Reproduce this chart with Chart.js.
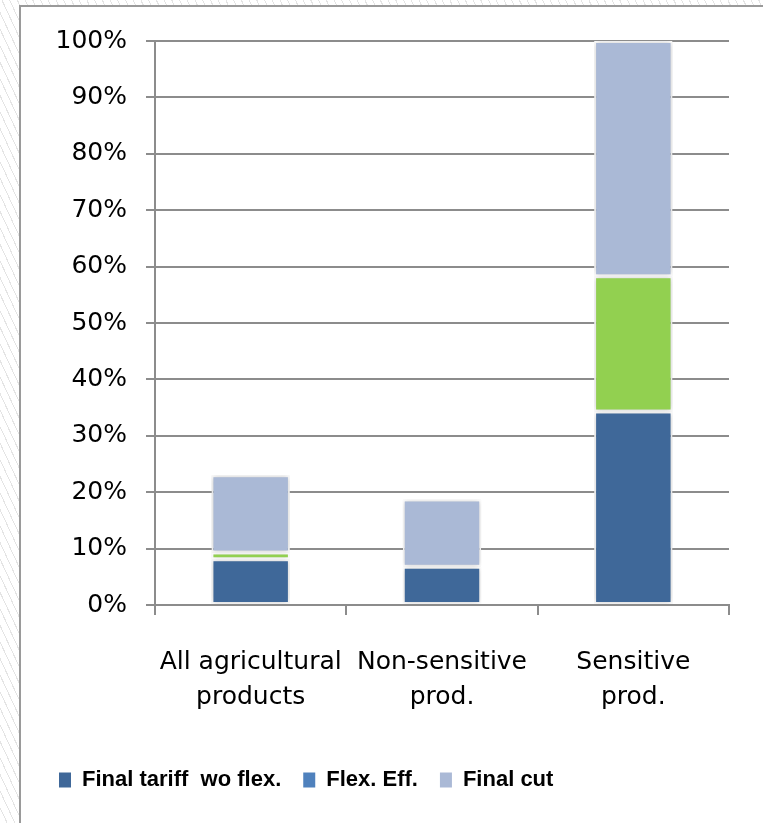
<!DOCTYPE html>
<html>
<head>
<meta charset="utf-8">
<script src="https://cdn.jsdelivr.net/npm/chart.js@4.4.1/dist/chart.umd.min.js"></script>
<style>
  html, body { margin: 0; padding: 0; width: 763px; height: 823px; overflow: hidden; }
  body {
    background: repeating-linear-gradient(65deg, #ffffff 0px, #ffffff 6px, #e4e4e4 6px, #e4e4e4 7px);
    position: relative;
  }
  #frame {
    position: absolute; left: 19px; top: 5px; width: 800px; height: 900px;
    background: #fff; border-left: 2px solid #9a9a9a; border-top: 2px solid #9a9a9a;
  }
  #wrap { position: absolute; left: 0; top: 0; width: 763px; height: 823px; }
</style>
</head>
<body>
<div id="frame"></div>
<div id="wrap"><canvas id="c" width="763" height="823"></canvas></div>
<script>
// Tariff shares by product group (percent of total)
const categories = [["All agricultural", "products"], ["Non-sensitive", "prod."], ["Sensitive", "prod."]];
const finalTariffWoFlex = [8.1, 6.8, 34.3];
const flexEff = [1.2, 0, 24.0];
const finalCut = [13.7, 11.9, 41.7];
const seriesNames = ["Final tariff  wo flex.", "Flex. Eff.", "Final cut"];
const yTicks = [0, 10, 20, 30, 40, 50, 60, 70, 80, 90, 100];

const barColors = ["#3F6899", "#92D050", "#AAB9D6"];
const legendColors = ["#3F6899", "#4F81BD", "#AAB9D6"];
const gridGray = "#8c8c8c";

// soft drop shadow behind the bar segments
const barShadow = {
  id: "barShadow",
  beforeDatasetsDraw(chart) {
    const ctx = chart.ctx;
    ctx.save();
    ctx.shadowColor = "rgba(0,0,0,0.22)";
    ctx.shadowBlur = 6;
  },
  afterDatasetsDraw(chart) {
    chart.ctx.restore();
  }
};

const makeSet = (label, data, i) => ({
  label,
  data,
  backgroundColor: barColors[i],
  borderColor: "#ffffff",
  borderWidth: 2,
  borderSkipped: false,
  categoryPercentage: 1,
  barPercentage: 0.41
});

new Chart(document.getElementById("c"), {
  type: "bar",
  data: {
    labels: categories,
    datasets: [
      makeSet(seriesNames[0], finalTariffWoFlex, 0),
      makeSet(seriesNames[1], flexEff, 1),
      makeSet(seriesNames[2], finalCut, 2)
    ]
  },
  plugins: [barShadow],
  options: {
    responsive: false,
    animation: false,
    layout: { padding: { left: 37, right: 34, top: 41, bottom: 22 } },
    scales: {
      x: {
        stacked: true,
        grid: { offset: true, drawOnChartArea: false, drawTicks: true, tickLength: 10, color: gridGray, lineWidth: 2 },
        border: { display: true, color: gridGray, width: 2 },
        ticks: { color: "#000", padding: 30, font: { family: "DejaVu Sans", size: 25, lineHeight: 1.4 }, maxRotation: 0, autoSkip: false },
        afterFit(scale) { scale.height = 142; }
      },
      y: {
        stacked: true,
        min: 0,
        max: 100,
        afterBuildTicks(scale) { scale.ticks = yTicks.map(v => ({ value: v })); },
        grid: { color: gridGray, lineWidth: 2, drawTicks: true, tickLength: 9 },
        border: { display: true, color: gridGray, width: 2 },
        ticks: { color: "#000", padding: 19, font: { family: "DejaVu Sans", size: 25 }, callback: v => v + "%" },
        afterFit(scale) { scale.width = 118; }
      }
    },
    plugins: {
      tooltip: { enabled: false },
      legend: {
        position: "bottom",
        align: "start",
        labels: {
          color: "#000",
          boxWidth: 12,
          boxHeight: 15,
          padding: 22,
          font: { family: "Liberation Sans", size: 22, weight: "bold" },
          generateLabels(chart) {
            return chart.data.datasets.map((ds, i) => ({
              text: ds.label,
              fillStyle: legendColors[i],
              strokeStyle: legendColors[i],
              lineWidth: 0,
              hidden: false,
              datasetIndex: i
            }));
          }
        }
      }
    }
  }
});
</script>
</body>
</html>
